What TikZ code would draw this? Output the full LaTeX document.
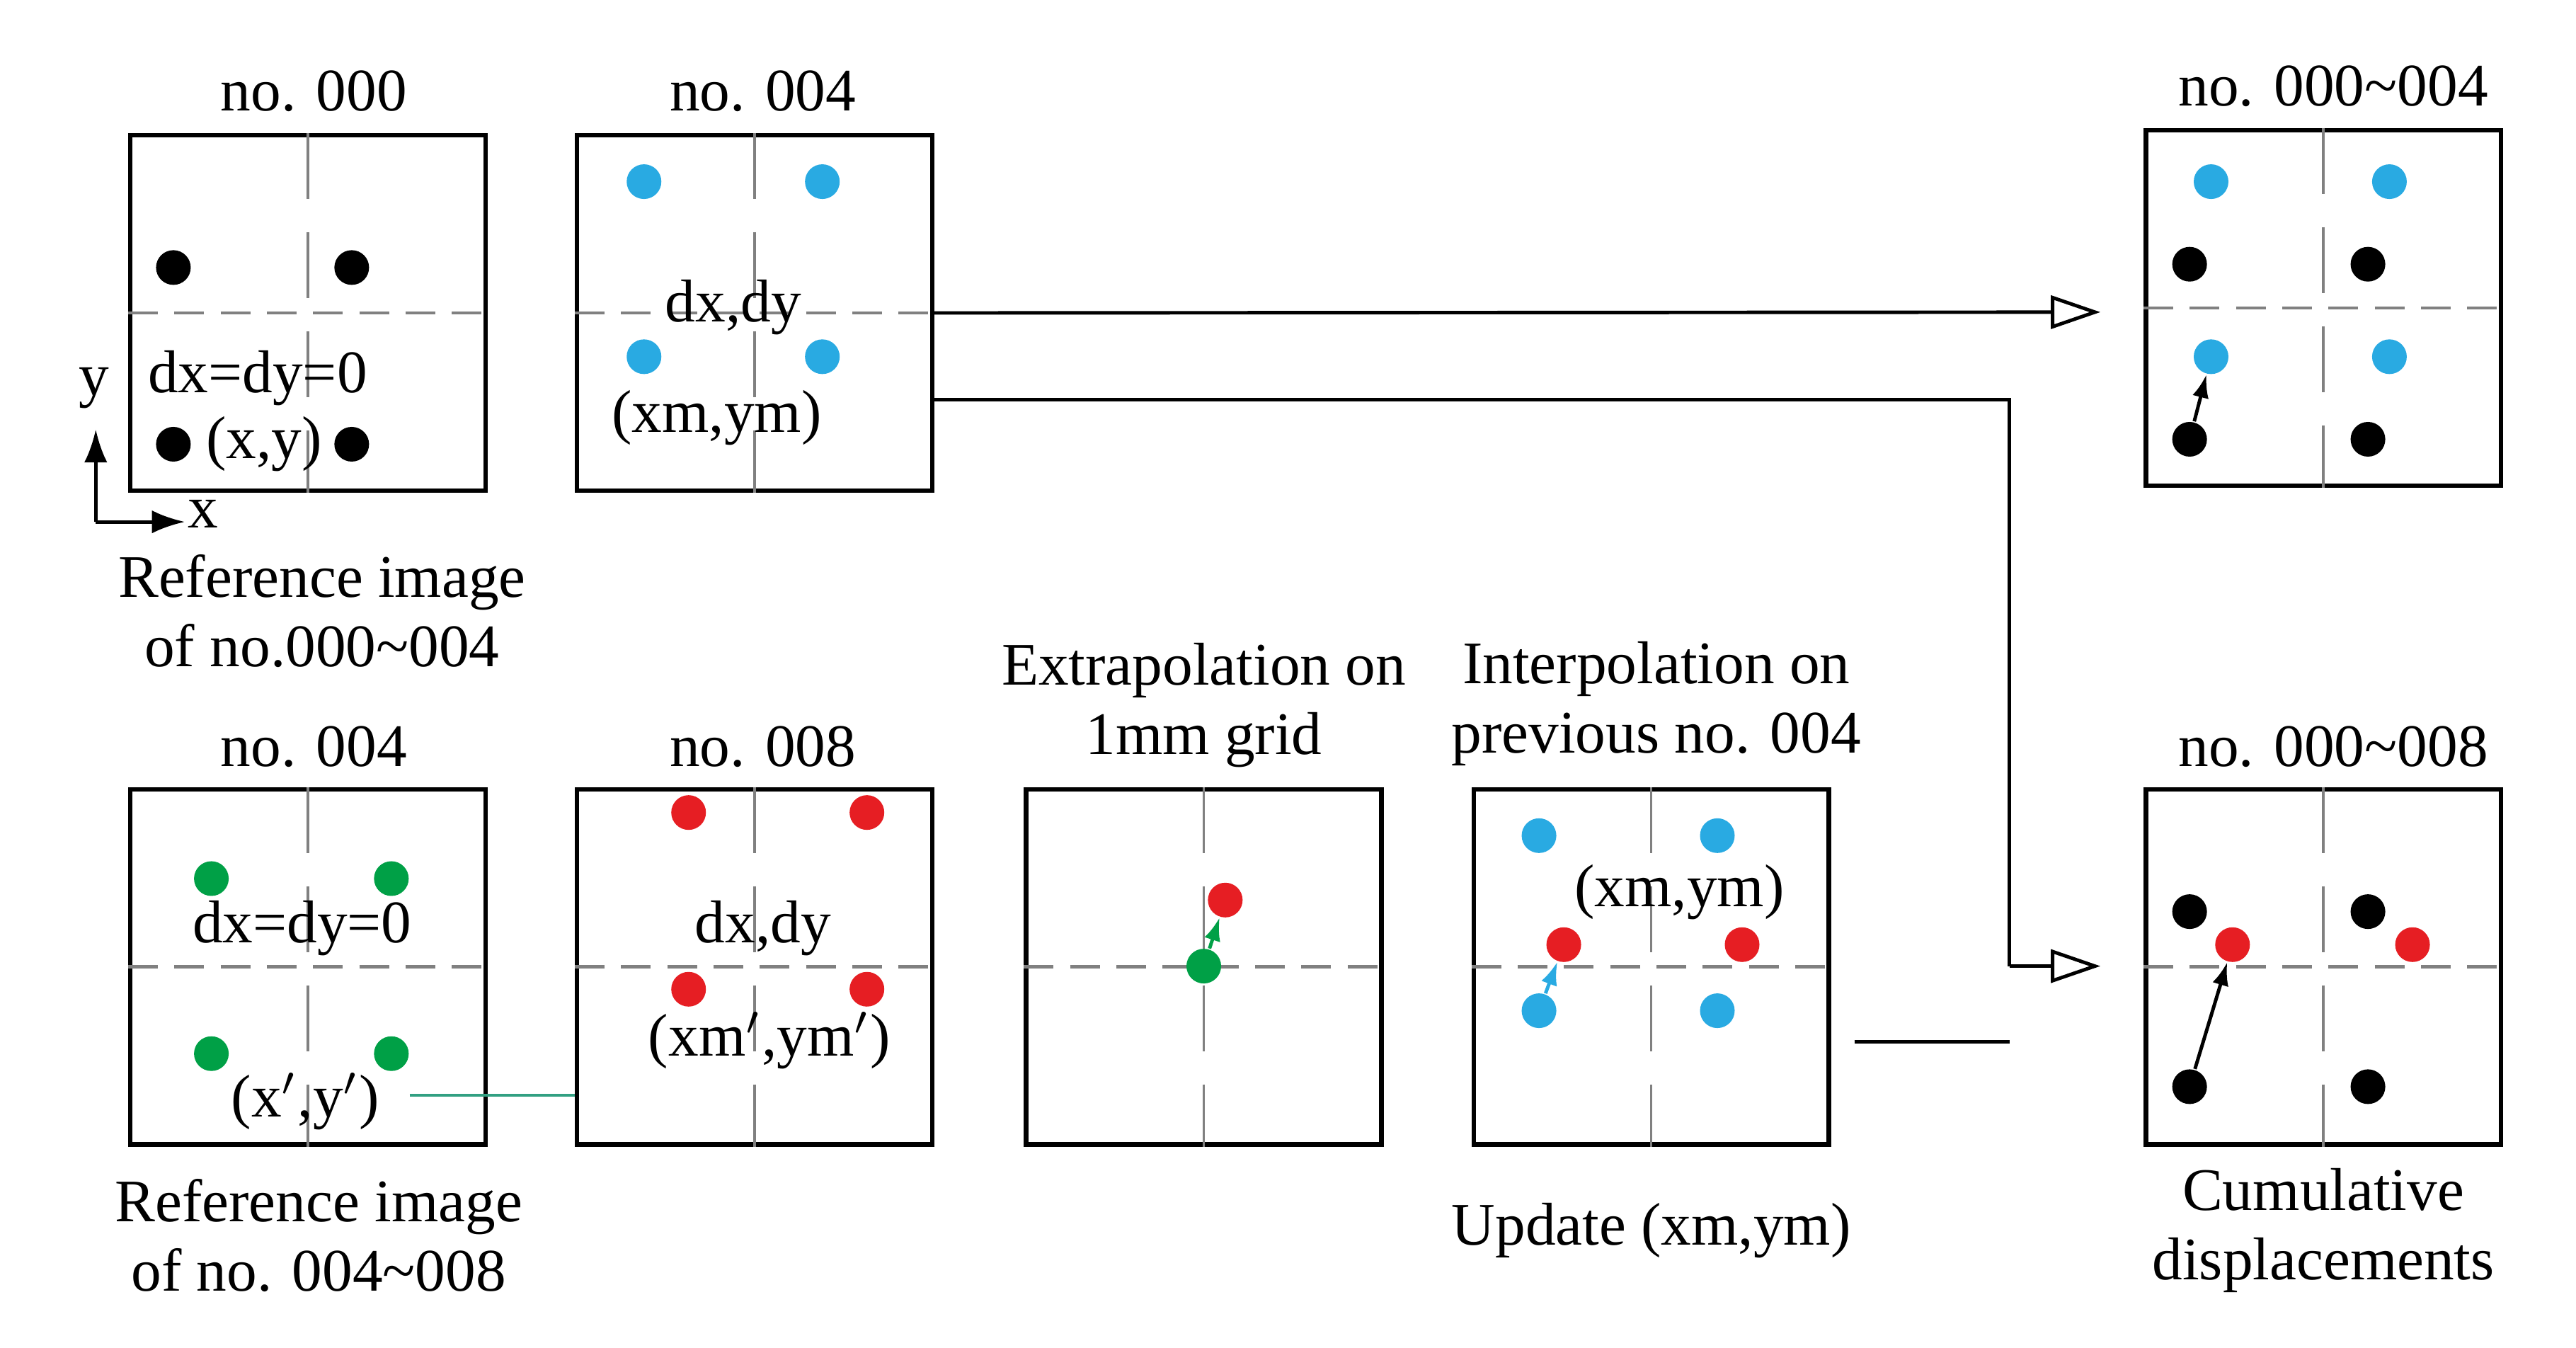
\documentclass[tikz,border=0pt]{standalone}
\usepackage{fontspec}
\setmainfont{Liberation Serif}
\usetikzlibrary{arrows.meta}
\definecolor{ptblue}{RGB}{41,170,226}
\definecolor{ptred}{RGB}{230,30,35}
\definecolor{ptgreen}{RGB}{0,160,70}
\definecolor{ptteal}{RGB}{50,160,130}
\tikzset{
  frame/.style={rectangle, draw, line width=0.8pt, minimum size=2.15cm, inner sep=0pt},
  dot/.style={circle, fill=#1, inner sep=0pt, minimum width=0.19cm, minimum height=0.21cm},
  lbl/.style={font=\fontsize{10.4}{12}\selectfont, inner sep=0pt, align=center},
  hollow/.style={-{Triangle[open, length=0.3cm, width=0.2cm]}, line width=0.6pt},
}
\newcommand{\gridlines}[1]{%
  \draw[gray, dashed, dash pattern=on 0.18cm off 0.1cm, line width=0.6pt] (#1.west) -- (#1.east);
  \draw[gray, dashed, dash pattern=on 0.4cm off 0.2cm, line width=0.4pt] (#1.north) -- (#1.south);
}
\begin{document}
\begin{tikzpicture}[x=0.01cm, y=-0.01cm]
  \useasboundingbox (0,0) rectangle (1560,816);
  % Boxes
  \node (b-000) [frame] at (186.5,189.5) {};
  \node (b-004) [frame] at (457,189.5) {};
  \node (b-sum1) [frame] at (1407,186.5) {};
  \node (c-004) [frame] at (186.5,585.5) {};
  \node (c-008) [frame] at (457,585.5) {};
  \node (c-ext) [frame] at (729,585.5) {};
  \node (c-int) [frame] at (1000,585.5) {};
  \node (c-sum2) [frame] at (1407,585.5) {};
  \foreach \b in {b-000,b-004,b-sum1,c-004,c-008,c-ext,c-int,c-sum2} {\gridlines{\b}}
  % Titles
  \node [lbl] at (190,55) {no. 000};
  \node [lbl] at (462,55) {no. 004};
  \node [lbl] at (1413,52) {no. 000\textasciitilde004};
  \node [lbl] at (190,452) {no. 004};
  \node [lbl] at (462,452) {no. 008};
  \node [lbl] at (729,427) {Extrapolation on\\1mm grid};
  \node [lbl] at (1003,426) {Interpolation on\\previous no. 004};
  \node [lbl] at (1413,452) {no. 000\textasciitilde008};
  \node [lbl] at (195,370) {Reference image\\of no.000\textasciitilde004};
  \node [lbl] at (193,748) {Reference image\\of no. 004\textasciitilde008};
  \node [lbl] at (1000,745) {Update (xm,ym)};
  \node [lbl] at (1407,745) {Cumulative\\displacements};
  % Dots
  \node (k1) [dot=black] at (105,162) {};
  \node (k2) [dot=black] at (213,162) {};
  \node (k3) [dot=black] at (105,269) {};
  \node (k4) [dot=black] at (213,269) {};
  \node (u1) [dot=ptblue] at (390,110) {};
  \node (u2) [dot=ptblue] at (498,110) {};
  \node (u3) [dot=ptblue] at (390,216) {};
  \node (u4) [dot=ptblue] at (498,216) {};
  \node (s1) [dot=ptblue] at (1339,110) {};
  \node (s2) [dot=ptblue] at (1447,110) {};
  \node (s3) [dot=ptblue] at (1339,216) {};
  \node (s4) [dot=ptblue] at (1447,216) {};
  \node (sk1) [dot=black] at (1326,160) {};
  \node (sk2) [dot=black] at (1434,160) {};
  \node (sk3) [dot=black] at (1326,266) {};
  \node (sk4) [dot=black] at (1434,266) {};
  \node (g1) [dot=ptgreen] at (128,532) {};
  \node (g2) [dot=ptgreen] at (237,532) {};
  \node (g3) [dot=ptgreen] at (128,638) {};
  \node (g4) [dot=ptgreen] at (237,638) {};
  \node (r1) [dot=ptred] at (417,492) {};
  \node (r2) [dot=ptred] at (525,492) {};
  \node (r3) [dot=ptred] at (417,599) {};
  \node (r4) [dot=ptred] at (525,599) {};
  \node (eg) [dot=ptgreen] at (729,585) {};
  \node (er) [dot=ptred] at (742,545) {};
  \node (i1) [dot=ptblue] at (932,506) {};
  \node (i2) [dot=ptblue] at (1040,506) {};
  \node (i3) [dot=ptblue] at (932,612) {};
  \node (i4) [dot=ptblue] at (1040,612) {};
  \node (ir1) [dot=ptred] at (947,572) {};
  \node (ir2) [dot=ptred] at (1055,572) {};
  \node (ck1) [dot=black] at (1326,552) {};
  \node (ck2) [dot=black] at (1434,552) {};
  \node (ck3) [dot=black] at (1326,658) {};
  \node (ck4) [dot=black] at (1434,658) {};
  \node (cr1) [dot=ptred] at (1352,572) {};
  \node (cr2) [dot=ptred] at (1461,572) {};
  % In-box texts
  \node [lbl] at (156,229) {dx=dy=0};
  \node [lbl] at (160,269) {(x,y)};
  \node [lbl] at (444,186) {dx,dy};
  \node [lbl] at (434,253) {(xm,ym)};
  \node [lbl] at (183,562) {dx=dy=0};
  \node (xp) [lbl] at (185,667) {(x$'$,y$'$)};
  \node [lbl] at (462,562) {dx,dy};
  \node [lbl] at (466,630) {(xm$'$,ym$'$)};
  \node [lbl] at (1017,540) {(xm,ym)};
  % Axes
  \coordinate (o) at (58,316);
  \coordinate (ya) at (58,260);
  \coordinate (xa) at (112,316);
  \draw[-{Latex[length=0.2cm, width=0.14cm]}, line width=0.6pt] (o) -- (ya);
  \draw[-{Latex[length=0.2cm, width=0.14cm]}, line width=0.6pt] (o) -- (xa);
  \node [lbl] at (57,235) {y};
  \node [lbl] at (123,311) {x};
  % Arrows
  \draw[-{Latex[length=0.14cm, width=0.1cm]}, line width=0.6pt] (sk3) -- (s3);
  \draw[-{Latex[length=0.14cm, width=0.1cm]}, line width=0.6pt, ptgreen] (eg) -- (er);
  \draw[-{Latex[length=0.14cm, width=0.1cm]}, line width=0.6pt, ptblue] (i3) -- (ir1);
  \draw[-{Latex[length=0.14cm, width=0.1cm]}, line width=0.6pt] (ck3) -- (cr1);
  \coordinate (t1) at (1272,189);
  \coordinate (j1) at (1217,242);
  \coordinate (j2) at (1217,585);
  \coordinate (t2) at (1272,585);
  \coordinate (u0) at (1123,631);
  \draw[hollow] (b-004.east) -- (t1);
  \draw[line width=0.6pt] (b-004.east |- j1) -- (j1) -- (j2);
  \draw[hollow] (j2) -- (t2);
  \draw[line width=0.6pt] (u0) -- (u0 -| j1);
  \draw[ptteal, line width=0.5pt] (248,663) -- (c-008.west |- 0,663);
\end{tikzpicture}
\end{document}
